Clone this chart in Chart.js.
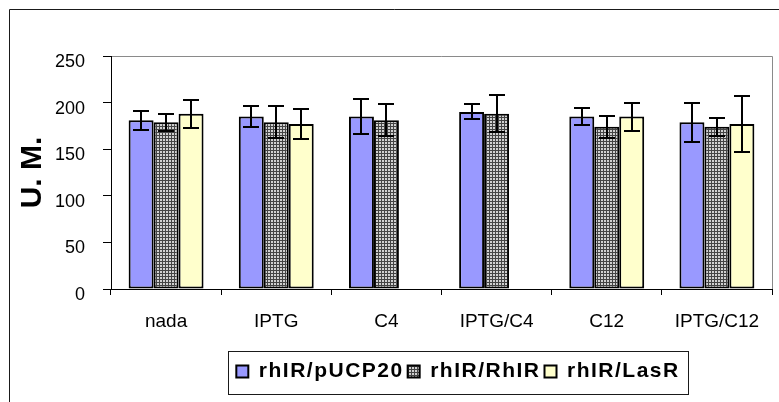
<!DOCTYPE html>
<html>
<head>
<meta charset="utf-8">
<script src="https://cdn.jsdelivr.net/npm/chart.js@4.4.1/dist/chart.umd.min.js"></script>
<style>
  html, body { margin: 0; padding: 0; background: #fff; }
  #wrap { width: 779px; height: 402px; }
</style>
</head>
<body>
<div id="wrap"><canvas id="c" width="779" height="402"></canvas></div>
<script>
// Treatments on the x axis
const categories = ['nada', 'IPTG', 'C4', 'IPTG/C4', 'C12', 'IPTG/C12'];
// Strain labels for the legend
const seriesNames = ['rhIR/pUCP20', 'rhIR/RhIR', 'rhIR/LasR'];
// Mean activity (U. M.) and error half-widths per strain
const pucp20 = [181, 185, 185, 190, 185, 179];
const pucp20Err = [10, 11, 19, 8, 9, 21];
const rhlr = [179, 179, 181, 188, 174, 174];
const rhlrErr = [9, 17, 17, 20, 12, 10];
const lasr = [188, 177, null, null, 185, 177];
const lasrErr = [15, 16, null, null, 15, 30];
// Value axis ticks
const yTicks = [0, 50, 100, 150, 200, 250];

const FONT = "'Liberation Sans', Arial, Helvetica, sans-serif";
const canvas = document.getElementById('c');
const ctx2d = canvas.getContext('2d');

// Fine checkered fill for the second series
function checkerPattern() {
  const tile = document.createElement('canvas');
  tile.width = 3; tile.height = 3;
  const g = tile.getContext('2d');
  g.fillStyle = '#d0d0d0'; g.fillRect(0, 0, 3, 3);
  g.fillStyle = '#444444'; g.fillRect(0, 0, 3, 1); g.fillRect(0, 0, 1, 3);
  return ctx2d.createPattern(tile, 'repeat');
}

const LEGEND_CENTER = 458;

const decorations = {
  id: 'decorations',
  afterInit(chart) {
    // slightly wider letter spacing for the legend text only
    const lg = chart.legend;
    ['fit', 'draw'].forEach(m => {
      const orig = lg[m].bind(lg);
      lg[m] = function (...args) {
        const c = chart.ctx;
        const prev = c.letterSpacing;
        c.letterSpacing = '1.5px';
        try { return orig(...args); } finally { c.letterSpacing = prev; }
      };
    });
  },
  afterLayout(chart) {
    const lg = chart.legend;
    const dx = LEGEND_CENTER - (lg.left + lg.right) / 2;
    lg.left += dx; lg.right += dx;
  },
  beforeDraw(chart) {
    const c = chart.ctx;
    c.save();
    c.fillStyle = '#fff';
    c.fillRect(0, 0, chart.width, chart.height);
    // outer frame
    c.strokeStyle = '#1a1a1a';
    c.lineWidth = 1;
    c.beginPath();
    c.moveTo(9.5, chart.height);
    c.lineTo(9.5, 9.5);
    c.lineTo(chart.width, 9.5);
    c.stroke();
    // plot area top and right edges
    const a = chart.chartArea;
    c.strokeStyle = '#8a8a8a';
    c.beginPath();
    c.moveTo(a.left, a.top + 0.5);
    c.lineTo(a.right + 0.5, a.top + 0.5);
    c.lineTo(a.right + 0.5, a.bottom);
    c.stroke();
    c.restore();
  },
  afterDatasetsDraw(chart) {
    const c = chart.ctx;
    const y = chart.scales.y;
    c.save();
    c.strokeStyle = '#000';
    c.lineWidth = 2;
    chart.data.datasets.forEach((ds, i) => {
      const meta = chart.getDatasetMeta(i);
      meta.data.forEach((bar, j) => {
        const v = ds.data[j];
        const e = ds.errors[j];
        if (v == null || e == null) return;
        const x = Math.round(bar.x);
        const top = Math.round(y.getPixelForValue(v + e));
        const bot = Math.round(y.getPixelForValue(v - e));
        const hw = 8;
        c.beginPath();
        c.moveTo(x, top); c.lineTo(x, bot);
        c.moveTo(x - hw, top); c.lineTo(x + hw, top);
        c.moveTo(x - hw, bot); c.lineTo(x + hw, bot);
        c.stroke();
      });
    });
    c.restore();
  },
  afterDraw(chart) {
    // frame round the legend
    const boxes = chart.legend.legendHitBoxes;
    if (!boxes || !boxes.length) return;
    const first = boxes[0], last = boxes[boxes.length - 1];
    const cy = first.top + first.height / 2;
    const c = chart.ctx;
    c.save();
    c.strokeStyle = '#1a1a1a';
    c.lineWidth = 1;
    const l = Math.round(first.left - 8) + 0.5;
    const r = Math.round(last.left + last.width + 8) + 0.5;
    const t = Math.round(cy - 21) + 0.5;
    const b = Math.round(cy + 22) + 0.5;
    c.strokeRect(l, t, r - l, b - t);
    c.restore();
  }
};

const barStyle = {
  borderColor: '#000',
  borderWidth: 2,
  borderSkipped: false,
  categoryPercentage: 0.68,
  barPercentage: 1.0
};

new Chart(canvas, {
  type: 'bar',
  data: {
    labels: categories,
    datasets: [
      Object.assign({ label: seriesNames[0], data: pucp20, errors: pucp20Err, backgroundColor: '#9999ff' }, barStyle),
      Object.assign({ label: seriesNames[1], data: rhlr, errors: rhlrErr, backgroundColor: checkerPattern() }, barStyle),
      Object.assign({ label: seriesNames[2], data: lasr, errors: lasrErr, backgroundColor: '#ffffcc' }, barStyle)
    ]
  },
  options: {
    responsive: false,
    animation: false,
    devicePixelRatio: 1,
    layout: { padding: { top: 56, right: 7, bottom: 10, left: 0 } },
    plugins: {
      tooltip: { enabled: false },
      legend: {
        position: 'bottom',
        labels: {
          boxWidth: 12,
          boxHeight: 12,
          padding: 4,
          color: '#000',
          font: { family: FONT, size: 21, weight: 'bold' }
        }
      }
    },
    scales: {
      x: {
        grid: { drawOnChartArea: false, drawTicks: true, tickLength: 6, color: '#000', offset: true },
        border: { color: '#000', width: 1 },
        ticks: { color: '#000', font: { family: FONT, size: 19 }, padding: 15, maxRotation: 0, autoSkip: false },
        afterFit(s) { s.height = 68; }
      },
      y: {
        min: yTicks[0],
        max: yTicks[yTicks.length - 1],
        grid: { drawOnChartArea: false, drawTicks: true, tickLength: 8, color: '#000' },
        border: { color: '#000', width: 1 },
        ticks: { stepSize: yTicks[1] - yTicks[0], color: '#000', font: { family: FONT, size: 18 }, padding: 18, labelOffset: 6 },
        title: {
          display: true,
          text: 'U. M.',
          color: '#000',
          font: { family: FONT, size: 30, weight: 'bold' },
          padding: { top: 15, bottom: 0 }
        },
        afterFit(s) { s.width = 111; }
      }
    }
  },
  plugins: [decorations]
});
</script>
</body>
</html>
